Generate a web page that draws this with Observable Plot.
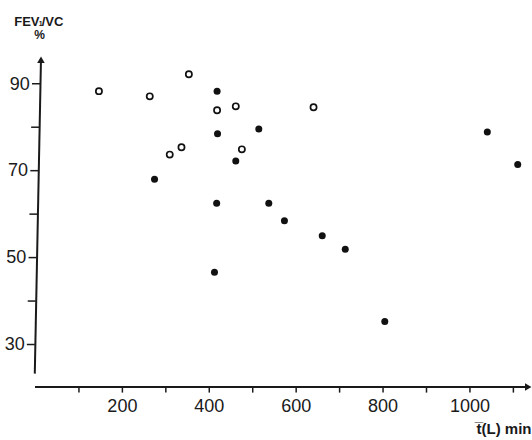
<!DOCTYPE html>
<html>
<head>
<meta charset="utf-8">
<script src="https://cdn.jsdelivr.net/npm/d3@7"></script>
<script src="https://cdn.jsdelivr.net/npm/@observablehq/plot@0.6"></script>
<style>
  html, body { margin: 0; padding: 0; background: #ffffff; }
  #chart svg { display: block; }
</style>
</head>
<body>
<div id="chart"></div>
<script>
// ---- data ----
const openX   = [146, 263, 353, 418, 461, 336, 309, 475, 640];
const openY   = [88.3, 87.1, 92.2, 83.9, 84.8, 75.4, 73.7, 74.9, 84.6];
const filledX = [418, 419, 514, 461, 274, 417, 537, 573, 660, 713, 412, 804, 1040, 1110];
const filledY = [88.3, 78.5, 79.6, 72.2, 68.0, 62.5, 62.5, 58.5, 55.0, 51.9, 46.6, 35.3, 78.9, 71.4];
const xTicks  = [100, 200, 300, 400, 500, 600, 700, 800, 900, 1000, 1100];
const xLabels = [200, 400, 600, 800, 1000];
const yTicks  = [30, 40, 50, 60, 70, 80, 90];
const yLabels = [30, 50, 70, 90];
const yTitle  = ["FEV", "1", "/VC", "%"];
const xTitle  = "t\u0305(L) min";

// ---- layout ----
const W = 532, H = 440;
const xDom = [0, 1144], yDom = [20.2, 96.5];
const pxPerX = (W - 35) / (xDom[1] - xDom[0]);      // px per x unit
const pxPerY = (H - 55 - 53.4) / (yDom[1] - yDom[0]);
// hand-drawn y axis is slightly tilted: its x (in x units) at value v
const axisAt = v => 11.5 - 0.197 * (90 - v);
const tickLen = 8 / pxPerX, labelOff = 10.7 / pxPerX;

const open = openX.map((x, i) => ({x, y: openY[i]}));
const filled = filledX.map((x, i) => ({x, y: filledY[i]}));
const font = "Liberation Sans, Arial, Helvetica, sans-serif";

const chart = Plot.plot({
  width: W, height: H,
  marginLeft: 35, marginRight: 0, marginTop: 55, marginBottom: 53.4,
  x: {domain: xDom, axis: null},
  y: {domain: yDom, axis: null},
  style: {background: "#ffffff", fontFamily: font, color: "#1a1a1a"},
  marks: [
    // x axis line and arrow
    Plot.ruleY([yDom[0]], {x1: 0, x2: 1132, stroke: "#1a1a1a", strokeWidth: 2}),
    Plot.dot([{x: xDom[1] - 12.3, y: yDom[0]}], {x: "x", y: "y", symbol: "triangle2", r: 3.6, rotate: 90, fill: "#1a1a1a"}),
    // x ticks
    Plot.ruleX(xTicks, {x: d => d, y1: yDom[0], y2: yDom[0] - 6 / pxPerY, stroke: "#1a1a1a", strokeWidth: 1.5}),
    Plot.text(xLabels, {x: d => d, frameAnchor: "bottom", dy: 19, lineAnchor: "middle", text: d => String(d), fontSize: 18, fill: "#1a1a1a"}),
    // y axis line (tilted) and arrow
    Plot.link([{a: 23.3, b: 95}], {x1: d => axisAt(d.a), y1: "a", x2: d => axisAt(d.b), y2: "b", stroke: "#1a1a1a", strokeWidth: 2}),
    Plot.dot([95.27], {x: d => axisAt(d), y: d => d, symbol: "triangle2", r: 3.6, rotate: 1, fill: "#1a1a1a"}),
    // y ticks
    Plot.ruleY(yTicks, {y: d => d, x1: d => axisAt(d) - tickLen, x2: d => axisAt(d), stroke: "#1a1a1a", strokeWidth: 1.5}),
    Plot.text(yLabels, {y: d => d, x: d => axisAt(d) - labelOff, text: d => String(d), textAnchor: "end", lineAnchor: "middle", fontSize: 18, fill: "#1a1a1a"}),
    // data
    Plot.dot(open, {x: "x", y: "y", r: 3.1, fill: "#ffffff", stroke: "#111111", strokeWidth: 1.7}),
    Plot.dot(filled, {x: "x", y: "y", r: 3.5, fill: "#111111", stroke: "none"}),
    // axis titles
    Plot.text([yTitle[0]], {frameAnchor: "top-left", dx: 4, dy: -30, textAnchor: "end", lineAnchor: "bottom", text: d => d, fontSize: 13, fontWeight: "bold", fill: "#1a1a1a"}),
    Plot.text([yTitle[1]], {frameAnchor: "top-left", dx: 5.3, dy: -29.5, textAnchor: "middle", lineAnchor: "bottom", text: d => d, fontSize: 7, fontWeight: "bold", fill: "#1a1a1a"}),
    Plot.text([yTitle[2]], {frameAnchor: "top-left", dx: 6.2, dy: -30, textAnchor: "start", lineAnchor: "bottom", text: d => d, fontSize: 13, fontWeight: "bold", fill: "#1a1a1a"}),
    Plot.text([yTitle[3]], {frameAnchor: "top-left", dx: 4, dy: -16.5, textAnchor: "middle", lineAnchor: "bottom", text: d => d, fontSize: 12, fontWeight: "bold", fill: "#1a1a1a"}),
    Plot.text([xTitle], {frameAnchor: "bottom-right", dx: -1, dy: 46.4, textAnchor: "end", lineAnchor: "bottom", text: d => d, fontSize: 15, fontWeight: "bold", fill: "#1a1a1a"})
  ]
});
document.getElementById("chart").appendChild(chart);
</script>
</body>
</html>
